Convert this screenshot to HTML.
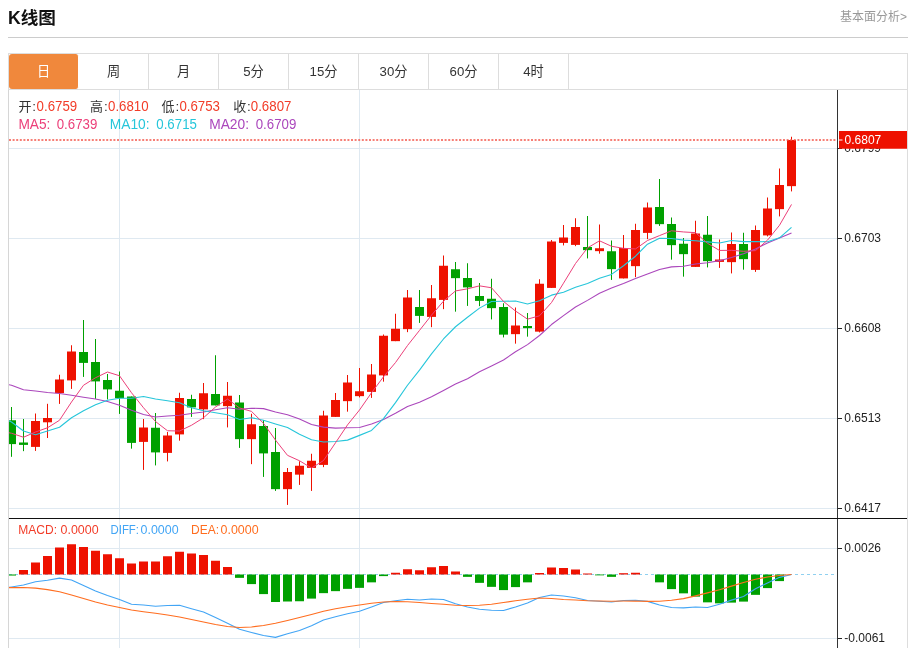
<!DOCTYPE html>
<html lang="zh-CN"><head><meta charset="utf-8"><title>K线图</title>
<style>
html,body{margin:0;padding:0;background:#fff}
body{font-family:"Liberation Sans","Noto Sans CJK SC",sans-serif;color:#333}
#wrap{position:relative;width:911px;height:648px;overflow:hidden;background:#fff}
.title{position:absolute;left:8px;top:5px;font-size:17.6px;font-weight:bold;color:#111;line-height:26px;white-space:nowrap}
.more{position:absolute;right:4px;top:7.5px;font-size:12px;color:#999;line-height:18px;white-space:nowrap}
.hr{position:absolute;left:8px;top:37px;width:900px;height:1px;background:#ccc}
.tabs{position:absolute;left:8px;top:53px;width:898px;height:35px;border:1px solid #ddd;background:#fff}
.tab{position:absolute;top:0;width:69px;height:35px;line-height:36.6px;text-align:center;font-size:13.2px;color:#333;border-right:1px solid #ddd}
.tab.on{background:#f0883c;color:#fff;border-right-color:#fff;border-radius:3px}
svg{position:absolute;left:0;top:0}
svg text{font-family:"Liberation Sans","Noto Sans CJK SC",sans-serif}

</style></head><body>
<div id="wrap">
<div class="title">K线图</div>
<div class="more">基本面分析&gt;</div>
<div class="hr"></div>
<div class="tabs">
<div class="tab on" style="left:0px">日</div>
<div class="tab" style="left:70px">周</div>
<div class="tab" style="left:140px">月</div>
<div class="tab" style="left:210px">5分</div>
<div class="tab" style="left:280px">15分</div>
<div class="tab" style="left:350px">30分</div>
<div class="tab" style="left:420px">60分</div>
<div class="tab" style="left:490px">4时</div>
</div>
<svg width="911" height="648" viewBox="0 0 911 648">
<rect x="8" y="90" width="1" height="558" fill="#d6d6d6"/>
<rect x="907" y="90" width="1" height="558" fill="#ddd"/>
<rect x="9" y="148" width="828" height="1" fill="#dfe9f1"/>
<rect x="9" y="238" width="828" height="1" fill="#dfe9f1"/>
<rect x="9" y="328" width="828" height="1" fill="#dfe9f1"/>
<rect x="9" y="418" width="828" height="1" fill="#dfe9f1"/>
<rect x="9" y="508" width="828" height="1" fill="#dfe9f1"/>
<rect x="9" y="548" width="828" height="1" fill="#dfe9f1"/>
<rect x="9" y="638" width="828" height="1" fill="#dfe9f1"/>
<rect x="119" y="90" width="1" height="558" fill="#dfe9f1"/>
<rect x="359" y="90" width="1" height="558" fill="#dfe9f1"/>
<defs><clipPath id="cp"><rect x="9" y="90" width="828" height="558"/></clipPath></defs>
<g clip-path="url(#cp)">
<line x1="9" y1="574.5" x2="837" y2="574.5" stroke="#8fd0f0" stroke-width="1" stroke-dasharray="3 3"/>
<rect x="7" y="574.5" width="9" height="1.05" fill="#00a000"/>
<rect x="19" y="570" width="9" height="4.5" fill="#ee1100"/>
<rect x="31" y="562.5" width="9" height="12" fill="#ee1100"/>
<rect x="43" y="556" width="9" height="18.5" fill="#ee1100"/>
<rect x="55" y="547.5" width="9" height="27" fill="#ee1100"/>
<rect x="67" y="544.25" width="9" height="30.25" fill="#ee1100"/>
<rect x="79" y="547" width="9" height="27.5" fill="#ee1100"/>
<rect x="91" y="550.75" width="9" height="23.75" fill="#ee1100"/>
<rect x="103" y="554.25" width="9" height="20.25" fill="#ee1100"/>
<rect x="115" y="558.25" width="9" height="16.25" fill="#ee1100"/>
<rect x="127" y="563.5" width="9" height="11" fill="#ee1100"/>
<rect x="139" y="561.5" width="9" height="13" fill="#ee1100"/>
<rect x="151" y="561.5" width="9" height="13" fill="#ee1100"/>
<rect x="163" y="556.25" width="9" height="18.25" fill="#ee1100"/>
<rect x="175" y="551.75" width="9" height="22.75" fill="#ee1100"/>
<rect x="187" y="553.5" width="9" height="21" fill="#ee1100"/>
<rect x="199" y="555" width="9" height="19.5" fill="#ee1100"/>
<rect x="211" y="560.75" width="9" height="13.75" fill="#ee1100"/>
<rect x="223" y="567" width="9" height="7.5" fill="#ee1100"/>
<rect x="235" y="574.5" width="9" height="3.35" fill="#00a000"/>
<rect x="247" y="574.5" width="9" height="9.6" fill="#00a000"/>
<rect x="259" y="574.5" width="9" height="19.6" fill="#00a000"/>
<rect x="271" y="574.5" width="9" height="27.5" fill="#00a000"/>
<rect x="283" y="574.5" width="9" height="27" fill="#00a000"/>
<rect x="295" y="574.5" width="9" height="26.75" fill="#00a000"/>
<rect x="307" y="574.5" width="9" height="24.1" fill="#00a000"/>
<rect x="319" y="574.5" width="9" height="18.65" fill="#00a000"/>
<rect x="331" y="574.5" width="9" height="16.65" fill="#00a000"/>
<rect x="343" y="574.5" width="9" height="14.35" fill="#00a000"/>
<rect x="355" y="574.5" width="9" height="13.35" fill="#00a000"/>
<rect x="367" y="574.5" width="9" height="7.85" fill="#00a000"/>
<rect x="379" y="574.5" width="9" height="1.6" fill="#00a000"/>
<rect x="391" y="572.75" width="9" height="1.75" fill="#ee1100"/>
<rect x="403" y="569.25" width="9" height="5.25" fill="#ee1100"/>
<rect x="415" y="570.25" width="9" height="4.25" fill="#ee1100"/>
<rect x="427" y="567.25" width="9" height="7.25" fill="#ee1100"/>
<rect x="439" y="566" width="9" height="8.5" fill="#ee1100"/>
<rect x="451" y="571.5" width="9" height="3" fill="#ee1100"/>
<rect x="463" y="574.5" width="9" height="2.35" fill="#00a000"/>
<rect x="475" y="574.5" width="9" height="8.35" fill="#00a000"/>
<rect x="487" y="574.5" width="9" height="12.35" fill="#00a000"/>
<rect x="499" y="574.5" width="9" height="15.6" fill="#00a000"/>
<rect x="511" y="574.5" width="9" height="12.6" fill="#00a000"/>
<rect x="523" y="574.5" width="9" height="7.85" fill="#00a000"/>
<rect x="535" y="573" width="9" height="1.5" fill="#ee1100"/>
<rect x="547" y="567.5" width="9" height="7" fill="#ee1100"/>
<rect x="559" y="568" width="9" height="6.5" fill="#ee1100"/>
<rect x="571" y="569.5" width="9" height="5" fill="#ee1100"/>
<rect x="583" y="573.5" width="9" height="1" fill="#ee1100"/>
<rect x="595" y="574.5" width="9" height="0.85" fill="#00a000"/>
<rect x="607" y="574.5" width="9" height="2.35" fill="#00a000"/>
<rect x="619" y="573.2" width="9" height="1.3" fill="#ee1100"/>
<rect x="631" y="572.75" width="9" height="1.75" fill="#ee1100"/>
<rect x="655" y="574.5" width="9" height="7.85" fill="#00a000"/>
<rect x="667" y="574.5" width="9" height="14.6" fill="#00a000"/>
<rect x="679" y="574.5" width="9" height="18.85" fill="#00a000"/>
<rect x="691" y="574.5" width="9" height="22.1" fill="#00a000"/>
<rect x="703" y="574.5" width="9" height="27.85" fill="#00a000"/>
<rect x="715" y="574.5" width="9" height="28.85" fill="#00a000"/>
<rect x="727" y="574.5" width="9" height="28.1" fill="#00a000"/>
<rect x="739" y="574.5" width="9" height="27.1" fill="#00a000"/>
<rect x="751" y="574.5" width="9" height="20.35" fill="#00a000"/>
<rect x="763" y="574.5" width="9" height="13.6" fill="#00a000"/>
<rect x="775" y="574.5" width="9" height="6.6" fill="#00a000"/>
<rect x="11" y="407" width="1" height="49.8" fill="#00a000"/>
<rect x="7" y="420.25" width="9" height="23.85" fill="#00a000"/>
<rect x="23" y="419" width="1" height="32.15" fill="#00a000"/>
<rect x="19" y="442.5" width="9" height="2.4" fill="#00a000"/>
<rect x="35" y="413.5" width="1" height="37.4" fill="#ee1100"/>
<rect x="31" y="421" width="9" height="25.9" fill="#ee1100"/>
<rect x="47" y="403.8" width="1" height="34.2" fill="#ee1100"/>
<rect x="43" y="418" width="9" height="4.3" fill="#ee1100"/>
<rect x="59" y="374.75" width="1" height="29.15" fill="#ee1100"/>
<rect x="55" y="379.5" width="9" height="13.65" fill="#ee1100"/>
<rect x="71" y="345.25" width="1" height="43.65" fill="#ee1100"/>
<rect x="67" y="351.5" width="9" height="28.9" fill="#ee1100"/>
<rect x="83" y="320" width="1" height="56.9" fill="#00a000"/>
<rect x="79" y="352" width="9" height="10.9" fill="#00a000"/>
<rect x="95" y="339" width="1" height="59.9" fill="#00a000"/>
<rect x="91" y="362" width="9" height="19.4" fill="#00a000"/>
<rect x="107" y="374" width="1" height="25.4" fill="#00a000"/>
<rect x="103" y="380" width="9" height="9.4" fill="#00a000"/>
<rect x="119" y="371.5" width="1" height="42.4" fill="#00a000"/>
<rect x="115" y="390.75" width="9" height="7.4" fill="#00a000"/>
<rect x="131" y="396.5" width="1" height="52.15" fill="#00a000"/>
<rect x="127" y="396.5" width="9" height="46.4" fill="#00a000"/>
<rect x="143" y="419" width="1" height="50.9" fill="#ee1100"/>
<rect x="139" y="427.5" width="9" height="14.4" fill="#ee1100"/>
<rect x="155" y="413" width="1" height="52.4" fill="#00a000"/>
<rect x="151" y="427.75" width="9" height="24.65" fill="#00a000"/>
<rect x="167" y="432" width="1" height="29.4" fill="#ee1100"/>
<rect x="163" y="435.5" width="9" height="17.4" fill="#ee1100"/>
<rect x="179" y="392.75" width="1" height="47.9" fill="#ee1100"/>
<rect x="175" y="398" width="9" height="36.4" fill="#ee1100"/>
<rect x="191" y="394.75" width="1" height="22.15" fill="#00a000"/>
<rect x="187" y="399" width="9" height="8.4" fill="#00a000"/>
<rect x="203" y="383" width="1" height="36.15" fill="#ee1100"/>
<rect x="199" y="393.25" width="9" height="16.15" fill="#ee1100"/>
<rect x="215" y="355.25" width="1" height="50.15" fill="#00a000"/>
<rect x="211" y="394" width="9" height="11.4" fill="#00a000"/>
<rect x="227" y="382" width="1" height="45.4" fill="#ee1100"/>
<rect x="223" y="395.75" width="9" height="10.4" fill="#ee1100"/>
<rect x="239" y="395" width="1" height="52.9" fill="#00a000"/>
<rect x="235" y="402.5" width="9" height="36.65" fill="#00a000"/>
<rect x="251" y="413.75" width="1" height="50.4" fill="#ee1100"/>
<rect x="247" y="424.25" width="9" height="14.9" fill="#ee1100"/>
<rect x="263" y="420" width="1" height="56.9" fill="#00a000"/>
<rect x="259" y="426" width="9" height="27.4" fill="#00a000"/>
<rect x="275" y="428" width="1" height="62.9" fill="#00a000"/>
<rect x="271" y="452" width="9" height="37.15" fill="#00a000"/>
<rect x="287" y="468" width="1" height="36.9" fill="#ee1100"/>
<rect x="283" y="472" width="9" height="17.15" fill="#ee1100"/>
<rect x="299" y="461.25" width="1" height="23.65" fill="#ee1100"/>
<rect x="295" y="465.75" width="9" height="8.9" fill="#ee1100"/>
<rect x="311" y="453.75" width="1" height="37.15" fill="#ee1100"/>
<rect x="307" y="460.75" width="9" height="7.15" fill="#ee1100"/>
<rect x="323" y="410.75" width="1" height="56.4" fill="#ee1100"/>
<rect x="319" y="415.5" width="9" height="49.4" fill="#ee1100"/>
<rect x="335" y="393" width="1" height="23.9" fill="#ee1100"/>
<rect x="331" y="400" width="9" height="16.9" fill="#ee1100"/>
<rect x="347" y="375" width="1" height="36.65" fill="#ee1100"/>
<rect x="343" y="382.5" width="9" height="18.65" fill="#ee1100"/>
<rect x="359" y="368" width="1" height="29.4" fill="#ee1100"/>
<rect x="355" y="391.25" width="9" height="4.9" fill="#ee1100"/>
<rect x="371" y="364" width="1" height="33.9" fill="#ee1100"/>
<rect x="367" y="374.5" width="9" height="17.4" fill="#ee1100"/>
<rect x="383" y="334.5" width="1" height="47.15" fill="#ee1100"/>
<rect x="379" y="335.75" width="9" height="39.65" fill="#ee1100"/>
<rect x="395" y="313.75" width="1" height="27.4" fill="#ee1100"/>
<rect x="391" y="328.75" width="9" height="12.4" fill="#ee1100"/>
<rect x="407" y="290" width="1" height="42.15" fill="#ee1100"/>
<rect x="403" y="297.5" width="9" height="31.65" fill="#ee1100"/>
<rect x="419" y="290" width="1" height="32.9" fill="#00a000"/>
<rect x="415" y="307" width="9" height="8.9" fill="#00a000"/>
<rect x="431" y="285" width="1" height="42.15" fill="#ee1100"/>
<rect x="427" y="298.25" width="9" height="18.65" fill="#ee1100"/>
<rect x="443" y="255.5" width="1" height="53.65" fill="#ee1100"/>
<rect x="439" y="265.75" width="9" height="34.15" fill="#ee1100"/>
<rect x="455" y="262" width="1" height="49.65" fill="#00a000"/>
<rect x="451" y="269.25" width="9" height="8.9" fill="#00a000"/>
<rect x="467" y="263.25" width="1" height="42.65" fill="#00a000"/>
<rect x="463" y="278" width="9" height="9.4" fill="#00a000"/>
<rect x="479" y="283" width="1" height="23.15" fill="#00a000"/>
<rect x="475" y="296" width="9" height="4.9" fill="#00a000"/>
<rect x="491" y="278.75" width="1" height="40.65" fill="#00a000"/>
<rect x="487" y="298.75" width="9" height="9.4" fill="#00a000"/>
<rect x="503" y="303.25" width="1" height="34.15" fill="#00a000"/>
<rect x="499" y="307" width="9" height="27.65" fill="#00a000"/>
<rect x="515" y="307.5" width="1" height="36.15" fill="#ee1100"/>
<rect x="511" y="325.5" width="9" height="8.65" fill="#ee1100"/>
<rect x="527" y="313" width="1" height="23.65" fill="#00a000"/>
<rect x="523" y="326" width="9" height="2.15" fill="#00a000"/>
<rect x="539" y="279.25" width="1" height="53.15" fill="#ee1100"/>
<rect x="535" y="283.75" width="9" height="47.9" fill="#ee1100"/>
<rect x="551" y="240" width="1" height="47.9" fill="#ee1100"/>
<rect x="547" y="241.5" width="9" height="46.4" fill="#ee1100"/>
<rect x="563" y="225" width="1" height="20.4" fill="#ee1100"/>
<rect x="559" y="237.5" width="9" height="5.4" fill="#ee1100"/>
<rect x="575" y="218.25" width="1" height="27.9" fill="#ee1100"/>
<rect x="571" y="227" width="9" height="17.9" fill="#ee1100"/>
<rect x="587" y="216" width="1" height="42.4" fill="#00a000"/>
<rect x="583" y="247" width="9" height="3.15" fill="#00a000"/>
<rect x="599" y="224.5" width="1" height="29.15" fill="#ee1100"/>
<rect x="595" y="248.25" width="9" height="2.9" fill="#ee1100"/>
<rect x="611" y="240.5" width="1" height="39.4" fill="#00a000"/>
<rect x="607" y="251.25" width="9" height="17.9" fill="#00a000"/>
<rect x="623" y="235" width="1" height="43.4" fill="#ee1100"/>
<rect x="619" y="248" width="9" height="30.4" fill="#ee1100"/>
<rect x="635" y="223.75" width="1" height="53.4" fill="#ee1100"/>
<rect x="631" y="230" width="9" height="36.15" fill="#ee1100"/>
<rect x="647" y="202.5" width="1" height="36.65" fill="#ee1100"/>
<rect x="643" y="207.5" width="9" height="25.4" fill="#ee1100"/>
<rect x="659" y="179" width="1" height="46.9" fill="#00a000"/>
<rect x="655" y="207" width="9" height="17.15" fill="#00a000"/>
<rect x="671" y="217.5" width="1" height="42.15" fill="#00a000"/>
<rect x="667" y="224" width="9" height="21.15" fill="#00a000"/>
<rect x="683" y="238" width="1" height="38.65" fill="#00a000"/>
<rect x="679" y="243.75" width="9" height="10.4" fill="#00a000"/>
<rect x="695" y="220.75" width="1" height="46.15" fill="#ee1100"/>
<rect x="691" y="233.5" width="9" height="33.4" fill="#ee1100"/>
<rect x="707" y="216" width="1" height="51.4" fill="#00a000"/>
<rect x="703" y="234.75" width="9" height="26.4" fill="#00a000"/>
<rect x="719" y="239.5" width="1" height="28.4" fill="#ee1100"/>
<rect x="715" y="259.5" width="9" height="2.4" fill="#ee1100"/>
<rect x="731" y="232.5" width="1" height="40.9" fill="#ee1100"/>
<rect x="727" y="244" width="9" height="18.15" fill="#ee1100"/>
<rect x="743" y="232.75" width="1" height="36.9" fill="#00a000"/>
<rect x="739" y="244" width="9" height="15.15" fill="#00a000"/>
<rect x="755" y="225.5" width="1" height="46.4" fill="#ee1100"/>
<rect x="751" y="230" width="9" height="39.9" fill="#ee1100"/>
<rect x="767" y="197.5" width="1" height="38.9" fill="#ee1100"/>
<rect x="763" y="208.5" width="9" height="26.9" fill="#ee1100"/>
<rect x="779" y="168.5" width="1" height="47.9" fill="#ee1100"/>
<rect x="775" y="185" width="9" height="24.15" fill="#ee1100"/>
<rect x="791" y="136.75" width="1" height="54.65" fill="#ee1100"/>
<rect x="787" y="140" width="9" height="46.15" fill="#ee1100"/>
<polyline fill="none" stroke="#ab47bc" stroke-width="1.1" stroke-linejoin="round" points="-0.5,383 11.5,385.25 23.5,389.75 35.5,391 47.5,392.5 59.5,393.5 71.5,395.25 83.5,397.25 95.5,399 107.5,401.5 119.5,405.25 131.5,410.25 143.5,414.5 155.5,417 167.5,416 179.5,415.25 191.5,413.5 203.5,412 215.5,409.75 227.5,407.75 239.5,409.19 251.5,408.21 263.5,408.64 275.5,412.02 287.5,414.73 299.5,419.04 311.5,424.5 323.5,427.15 335.5,428.1 347.5,427.77 359.5,427.45 371.5,424.05 383.5,419.46 395.5,413.3 407.5,406.4 419.5,402.27 431.5,396.84 443.5,390.46 455.5,384.1 467.5,378.66 479.5,371.75 491.5,365.93 503.5,359.99 515.5,351.82 527.5,344.61 539.5,335.51 551.5,324.55 563.5,315.65 575.5,307 587.5,300.36 599.5,293.21 611.5,287.93 623.5,283.54 635.5,278.6 647.5,274.1 659.5,269.51 671.5,266.84 683.5,266.24 695.5,264.02 707.5,262.71 719.5,260.66 731.5,257.48 743.5,253.7 755.5,248.93 767.5,242.96 779.5,238.03 791.5,232.95"/>
<polyline fill="none" stroke="#26c6da" stroke-width="1.1" stroke-linejoin="round" points="-0.5,416.5 11.5,422 23.5,431 35.5,434.8 47.5,431 59.5,427.2 71.5,417.8 83.5,410.75 95.5,404.75 107.5,400.25 119.5,398.25 131.5,398.25 143.5,396.5 155.5,399 167.5,400.75 179.5,402.75 191.5,407.75 203.5,410.75 215.5,412.75 227.5,414.75 239.5,419.52 251.5,417.7 263.5,420.25 275.5,423.93 287.5,427.57 299.5,434.35 311.5,439.73 323.5,441.95 335.5,441.45 347.5,440.12 359.5,435.38 371.5,430.4 383.5,418.68 395.5,402.68 407.5,385.23 419.5,370.2 431.5,353.95 443.5,338.98 455.5,326.75 467.5,317.2 479.5,308.12 491.5,301.45 503.5,301.3 515.5,300.98 527.5,304 539.5,300.82 551.5,295.15 563.5,292.32 575.5,287.25 587.5,283.52 599.5,278.3 611.5,274.4 623.5,265.77 635.5,256.23 647.5,244.2 659.5,238.2 671.5,238.53 683.5,240.15 695.5,240.8 707.5,241.9 719.5,243.03 731.5,240.55 743.5,241.62 755.5,241.62 767.5,241.72 779.5,237.85 791.5,227.38"/>
<polyline fill="none" stroke="#ec407a" stroke-width="1.0" stroke-linejoin="round" points="-0.5,431 11.5,433.25 23.5,437.25 35.5,432 47.5,427.75 59.5,420.25 71.5,402 83.5,385.25 95.5,377.75 107.5,372 119.5,375.75 131.5,392.75 143.5,407.75 155.5,421.5 167.5,430.75 179.5,431 191.5,425.25 203.5,417.75 215.5,407 227.5,399 239.5,407.95 251.5,411.4 263.5,423.35 275.5,440.1 287.5,455.35 299.5,460.75 311.5,468.05 323.5,460.55 335.5,442.8 347.5,424.9 359.5,410 371.5,392.75 383.5,376.8 395.5,362.55 407.5,345.55 419.5,330.4 431.5,315.15 443.5,301.15 455.5,290.95 467.5,288.85 479.5,285.85 491.5,287.75 503.5,301.45 515.5,311 527.5,319.15 539.5,315.8 551.5,302.55 563.5,283.2 575.5,263.5 587.5,247.9 599.5,240.8 611.5,246.25 623.5,248.35 635.5,248.95 647.5,240.5 659.5,235.6 671.5,230.8 683.5,231.95 695.5,232.65 707.5,243.3 719.5,250.45 731.5,250.3 743.5,251.3 755.5,250.6 767.5,240.15 779.5,225.25 791.5,204.45"/>
<polyline fill="none" stroke="#42a5f5" stroke-width="1.12" stroke-linejoin="round" points="-0.5,589 11.5,587 23.5,585 35.5,581.75 47.5,580.25 59.5,578.1 71.5,580 83.5,585.6 95.5,591 107.5,595.5 119.5,599.5 131.5,604.25 143.5,605 155.5,606.25 167.5,605.5 179.5,605.25 191.5,608.75 203.5,612 215.5,617.5 227.5,623.25 239.5,629.25 251.5,632.5 263.5,635.5 275.5,637.4 287.5,633.75 299.5,630.5 311.5,625.75 323.5,620 335.5,616.75 347.5,613.75 359.5,611.25 371.5,607 383.5,602.5 395.5,600.75 407.5,599.25 419.5,600 431.5,599 443.5,599.5 455.5,603.75 467.5,607 479.5,609.25 491.5,610.25 503.5,610.5 515.5,607 527.5,603 539.5,597.5 551.5,595 563.5,596 575.5,597.75 587.5,600.5 599.5,601.25 611.5,602 623.5,600.5 635.5,600.25 647.5,601.4 659.5,605 671.5,607.5 683.5,607.85 695.5,607 707.5,607.5 719.5,604.2 731.5,600.1 743.5,596.45 755.5,588.75 767.5,582.95 779.5,577.35 791.5,574.5"/>
<polyline fill="none" stroke="#ff6d1f" stroke-width="1.25" stroke-linejoin="round" points="-0.5,587.5 11.5,587.5 23.5,587.5 35.5,588.1 47.5,589.6 59.5,591.75 71.5,595 83.5,598.5 95.5,602 107.5,605 119.5,607.5 131.5,610 143.5,611.75 155.5,613.25 167.5,615 179.5,617 191.5,619.5 203.5,622 215.5,624.5 227.5,626.5 239.5,627.5 251.5,627 263.5,625.5 275.5,623.25 287.5,620.5 299.5,617.5 311.5,614.5 323.5,611.25 335.5,608.75 347.5,606.75 359.5,605 371.5,603.25 383.5,602 395.5,601.5 407.5,601.75 419.5,602.5 431.5,603.5 443.5,604.25 455.5,605.25 467.5,605.5 479.5,605.25 491.5,604.25 503.5,602.5 515.5,600.75 527.5,599.25 539.5,598 551.5,598.5 563.5,599.5 575.5,600 587.5,600.75 599.5,601 611.5,601.25 623.5,601 635.5,601 647.5,601.4 659.5,601.25 671.5,600.25 683.5,598.65 695.5,595.88 707.5,592.9 719.5,589.76 731.5,586.15 743.5,582.5 755.5,579.25 767.5,577 779.5,575.5 791.5,574.5"/>
</g>
<line x1="9" y1="140" x2="836" y2="140" stroke="#f4564a" stroke-width="1.5" stroke-dasharray="2 1.6"/>
<rect x="837" y="90" width="1" height="558" fill="#333"/>
<rect x="9" y="518" width="898" height="1" fill="#111"/>
<rect x="838" y="148" width="4" height="1" fill="#222"/>
<text x="844.3" y="152.4" font-size="12" fill="#222">0.6799</text>
<rect x="838" y="238" width="4" height="1" fill="#222"/>
<text x="844.3" y="242.4" font-size="12" fill="#222">0.6703</text>
<rect x="838" y="328" width="4" height="1" fill="#222"/>
<text x="844.3" y="332.4" font-size="12" fill="#222">0.6608</text>
<rect x="838" y="418" width="4" height="1" fill="#222"/>
<text x="844.3" y="422.4" font-size="12" fill="#222">0.6513</text>
<rect x="838" y="508" width="4" height="1" fill="#222"/>
<text x="844.3" y="512.4" font-size="12" fill="#222">0.6417</text>
<rect x="838" y="548" width="4" height="1" fill="#222"/>
<text x="844.3" y="552.4" font-size="12" fill="#222">0.0026</text>
<rect x="838" y="638" width="4" height="1" fill="#222"/>
<text x="844.3" y="642.4" font-size="12" fill="#222">-0.0061</text>
<rect x="839" y="131" width="68" height="17.75" fill="#ee1100"/>
<rect x="839" y="139.5" width="3.5" height="1" fill="#fff"/>
<text x="844.6" y="144.3" font-size="12" fill="#fff">0.6807</text>
<text x="18.4" y="111" fill="#333"><tspan font-size="13">开</tspan><tspan font-size="13.5" dx="0.9">:</tspan></text>
<text x="36.6" y="110.7" font-size="14.5" fill="#f23c28" textLength="40.6" lengthAdjust="spacingAndGlyphs">0.6759</text>
<text x="90" y="111" fill="#333"><tspan font-size="13">高</tspan><tspan font-size="13.5" dx="0.9">:</tspan></text>
<text x="108" y="110.7" font-size="14.5" fill="#f23c28" textLength="40.6" lengthAdjust="spacingAndGlyphs">0.6810</text>
<text x="161.6" y="111" fill="#333"><tspan font-size="13">低</tspan><tspan font-size="13.5" dx="0.9">:</tspan></text>
<text x="179.4" y="110.7" font-size="14.5" fill="#f23c28" textLength="40.6" lengthAdjust="spacingAndGlyphs">0.6753</text>
<text x="233.2" y="111" fill="#333"><tspan font-size="13">收</tspan><tspan font-size="13.5" dx="0.9">:</tspan></text>
<text x="250.8" y="110.7" font-size="14.5" fill="#f23c28" textLength="40.6" lengthAdjust="spacingAndGlyphs">0.6807</text>
<text x="18.4" y="128.6" font-size="14.5" fill="#ec407a" textLength="32" lengthAdjust="spacingAndGlyphs">MA5:</text>
<text x="56.7" y="128.6" font-size="14.5" fill="#ec407a" textLength="40.6" lengthAdjust="spacingAndGlyphs">0.6739</text>
<text x="109.8" y="128.6" font-size="14.5" fill="#26c6da" textLength="39.8" lengthAdjust="spacingAndGlyphs">MA10:</text>
<text x="156.3" y="128.6" font-size="14.5" fill="#26c6da" textLength="40.6" lengthAdjust="spacingAndGlyphs">0.6715</text>
<text x="209.2" y="128.6" font-size="14.5" fill="#ab47bc" textLength="39.8" lengthAdjust="spacingAndGlyphs">MA20:</text>
<text x="255.7" y="128.6" font-size="14.5" fill="#ab47bc" textLength="40.6" lengthAdjust="spacingAndGlyphs">0.6709</text>
<text x="18.3" y="533.8" font-size="12" fill="#f23c28">MACD:</text>
<text x="60.6" y="533.8" font-size="12" fill="#f23c28" textLength="38" lengthAdjust="spacingAndGlyphs">0.0000</text>
<text x="110.5" y="533.8" font-size="12" fill="#42a5f5" textLength="28.5" lengthAdjust="spacingAndGlyphs">DIFF:</text>
<text x="140.6" y="533.8" font-size="12" fill="#42a5f5" textLength="38" lengthAdjust="spacingAndGlyphs">0.0000</text>
<text x="191" y="533.8" font-size="12" fill="#ff6d1f">DEA:</text>
<text x="220.6" y="533.8" font-size="12" fill="#ff6d1f" textLength="38" lengthAdjust="spacingAndGlyphs">0.0000</text>
</svg>
</div>
</body></html>
